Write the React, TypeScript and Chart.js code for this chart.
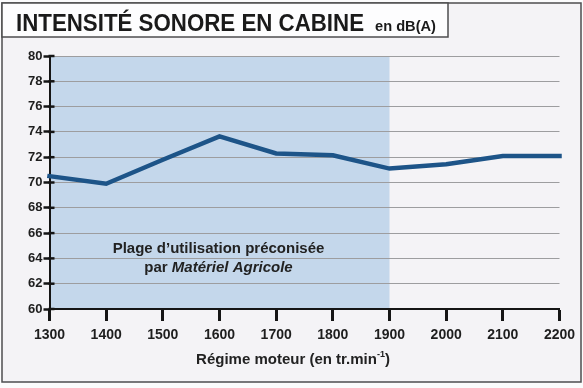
import React, { useEffect, useRef } from "react";
import { Chart, registerables } from "chart.js";

Chart.register(...registerables);

// ---- Data ----
const rpm = [1300, 1400, 1500, 1600, 1700, 1800, 1900, 2000, 2100, 2200];
const dbA = [70.5, 69.9, 71.8, 73.65, 72.3, 72.15, 71.1, 71.45, 72.1, 72.1];
const yMin = 60;
const yMax = 80;
const yStep = 2;
const xMin = 1300;
const xMax = 2200;
const xStep = 100;
const zoneStart = 1300;
const zoneEnd = 1900;

const titleMain = "INTENSITÉ SONORE EN CABINE";
const titleUnit = "en dB(A)";
const xTitleMain = "Régime moteur (en tr.min";
const xTitleSup = "-1";
const xTitleEnd = ")";
const noteLine1 = "Plage d’utilisation préconisée";
const noteLine2a = "par ";
const noteLine2b = "Matériel Agricole";

const W = 583;
const H = 388;

const decorPlugin = {
  id: "decor",
  beforeDraw(chart: any) {
    const ctx = chart.ctx as CanvasRenderingContext2D;
    const xs = chart.scales.x;
    const ys = chart.scales.y;
    ctx.save();
    // page
    ctx.fillStyle = "#fbfbfc";
    ctx.fillRect(0, 0, W, H);
    // frame
    ctx.fillStyle = "#f4f3f6";
    ctx.fillRect(2, 3, 579, 379);
    ctx.strokeStyle = "#4d4d4f";
    ctx.lineWidth = 1.5;
    ctx.strokeRect(2, 3, 579, 379);
    // title box
    ctx.fillStyle = "#fdfdfe";
    ctx.fillRect(2, 3, 446, 34);
    ctx.strokeRect(2, 3, 446, 34);
    // title text
    ctx.fillStyle = "#1a1a1a";
    ctx.textBaseline = "alphabetic";
    ctx.textAlign = "left";
    ctx.font = "bold 24px 'Liberation Sans', Arial, sans-serif";
    const tw = ctx.measureText(titleMain).width;
    ctx.save();
    ctx.translate(16, 31);
    ctx.scale(348 / tw, 1);
    ctx.fillText(titleMain, 0, 0);
    ctx.restore();
    ctx.font = "bold 15px 'Liberation Sans Narrow', 'Liberation Sans', Arial, sans-serif";
    const uw = ctx.measureText(titleUnit).width;
    ctx.save();
    ctx.translate(375, 31);
    ctx.scale(61 / uw, 1);
    ctx.fillText(titleUnit, 0, 0);
    ctx.restore();
    // recommended zone shading
    const x1 = xs.getPixelForValue(zoneStart);
    const x2 = xs.getPixelForValue(zoneEnd);
    const yt = ys.getPixelForValue(yMax);
    const yb = ys.getPixelForValue(yMin);
    ctx.fillStyle = "#c4d7eb";
    ctx.fillRect(x1, yt, x2 - x1, yb - yt);
    ctx.restore();
  },
  afterDraw(chart: any) {
    const ctx = chart.ctx as CanvasRenderingContext2D;
    const xs = chart.scales.x;
    const ys = chart.scales.y;
    const left = chart.chartArea.left;
    ctx.save();
    // inner part of y tick marks
    ctx.strokeStyle = "#151515";
    ctx.lineWidth = 2.5;
    for (let v = yMin; v <= yMax; v += yStep) {
      const y = ys.getPixelForValue(v);
      ctx.beginPath();
      ctx.moveTo(left - 1, y);
      ctx.lineTo(left + 5, y);
      ctx.stroke();
    }
    // note text
    const cx = (xs.getPixelForValue(zoneStart) + xs.getPixelForValue(zoneEnd)) / 2 - 1;
    ctx.fillStyle = "#222";
    ctx.textBaseline = "alphabetic";
    ctx.textAlign = "center";
    ctx.font = "bold 15px 'Liberation Sans Narrow', 'Liberation Sans', Arial, sans-serif";
    ctx.fillText(noteLine1, cx, 253);
    ctx.textAlign = "left";
    const fA = "bold 15px 'Liberation Sans Narrow', 'Liberation Sans', Arial, sans-serif";
    const fB = "italic bold 15px 'Liberation Sans Narrow', 'Liberation Sans', Arial, sans-serif";
    ctx.font = fA;
    const wA = ctx.measureText(noteLine2a).width;
    ctx.font = fB;
    const wB = ctx.measureText(noteLine2b).width;
    let sx = cx - (wA + wB) / 2;
    ctx.font = fA;
    ctx.fillText(noteLine2a, sx, 272);
    ctx.font = fB;
    ctx.fillText(noteLine2b, sx + wA, 272);
    // x axis title
    const fM = "bold 15px 'Liberation Sans Narrow', 'Liberation Sans', Arial, sans-serif";
    const fS = "bold 9px 'Liberation Sans Narrow', 'Liberation Sans', Arial, sans-serif";
    ctx.font = fM;
    const w1 = ctx.measureText(xTitleMain).width;
    const w3 = ctx.measureText(xTitleEnd).width;
    ctx.font = fS;
    const w2 = ctx.measureText(xTitleSup).width;
    const total = w1 + w2 + w3;
    let tx = 293 - total / 2;
    ctx.font = fM;
    ctx.fillText(xTitleMain, tx, 364);
    ctx.font = fS;
    ctx.fillText(xTitleSup, tx + w1, 357);
    ctx.font = fM;
    ctx.fillText(xTitleEnd, tx + w1 + w2, 364);
    ctx.restore();
  },
};

export default function App() {
  const ref = useRef<HTMLCanvasElement | null>(null);
  useEffect(() => {
    document.body.style.margin = "0";
    const canvas = ref.current;
    if (!canvas) return;
    const chart = new Chart(canvas, {
      type: "line",
      data: {
        datasets: [
          {
            data: rpm.map((r, i) => ({ x: r, y: dbA[i] })),
            borderColor: "#1d5488",
            borderWidth: 4.5,
            pointRadius: 0,
            tension: 0,
            borderCapStyle: "square",
            borderJoinStyle: "miter",
            clip: 10,
          } as any,
        ],
      },
      options: {
        animation: false,
        responsive: false,
        devicePixelRatio: 1,
        layout: { padding: { left: 0, top: 56, right: 23.5, bottom: 0 } },
        plugins: {
          legend: { display: false },
          tooltip: { enabled: false },
          title: { display: false },
        },
        scales: {
          x: {
            type: "linear",
            min: xMin,
            max: xMax,
            afterFit: (s: any) => {
              s.height = 79;
            },
            ticks: {
              stepSize: xStep,
              color: "#1e1e1e",
              padding: 6,
              maxRotation: 0,
              autoSkip: false,
              font: { family: "'Liberation Sans Narrow', 'Liberation Sans', Arial, sans-serif", size: 14, weight: "bold" },
              callback: (v: any) => String(v),
            },
            grid: {
              display: true,
              drawOnChartArea: false,
              drawTicks: true,
              tickLength: 12,
              tickWidth: 3,
              tickColor: "#151515",
            },
            border: { display: true, color: "#151515", width: 2 },
          },
          y: {
            type: "linear",
            min: yMin,
            max: yMax,
            afterFit: (s: any) => {
              s.width = 49.5;
            },
            ticks: {
              stepSize: yStep,
              color: "#1e1e1e",
              padding: 1,
              font: { family: "'Liberation Sans', Arial, sans-serif", size: 13, weight: "bold" },
            },
            grid: {
              display: true,
              color: "#9d9d9f",
              lineWidth: 1,
              drawTicks: true,
              tickLength: 6,
              tickWidth: 2.5,
              tickColor: "#151515",
            },
            border: { display: true, color: "#151515", width: 2 },
          },
        },
      },
      plugins: [decorPlugin],
    });
    return () => chart.destroy();
  }, []);
  return (
    <div style={{ width: W, height: H }}>
      <canvas ref={ref} width={W} height={H} style={{ display: "block", width: W, height: H }} />
    </div>
  );
}
